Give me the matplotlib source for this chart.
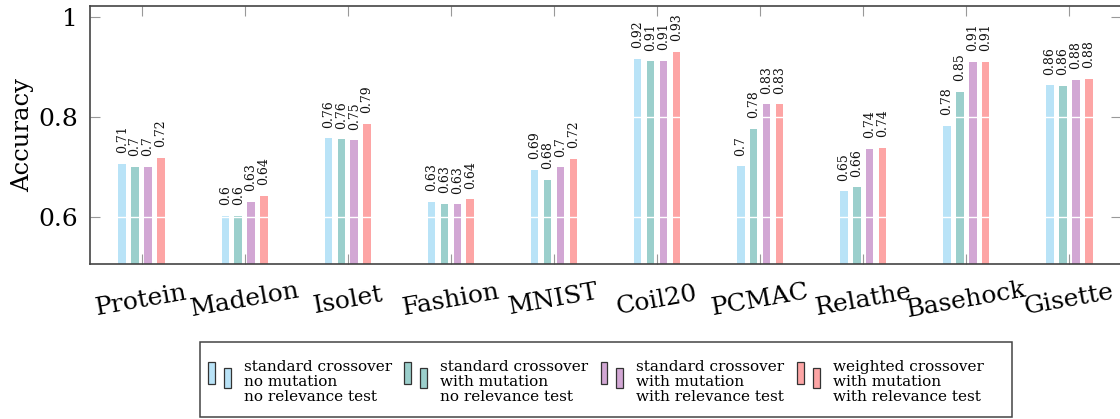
import matplotlib
matplotlib.use("Agg")
import matplotlib.pyplot as plt
from matplotlib.patches import Rectangle, Patch
from matplotlib.legend_handler import HandlerBase
import numpy as np

categories = ["Protein", "Madelon", "Isolet", "Fashion", "MNIST",
              "Coil20", "PCMAC", "Relathe", "Basehock", "Gisette"]

std_nomut_norel = [0.707, 0.603, 0.758, 0.631, 0.695, 0.917, 0.702, 0.652, 0.783, 0.864]
std_mut_norel = [0.701, 0.603, 0.756, 0.627, 0.675, 0.912, 0.777, 0.660, 0.851, 0.863]
std_mut_rel = [0.701, 0.631, 0.754, 0.626, 0.700, 0.913, 0.826, 0.737, 0.911, 0.875]
weighted_mut_rel = [0.719, 0.643, 0.787, 0.636, 0.717, 0.931, 0.826, 0.739, 0.911, 0.877]

series = [std_nomut_norel, std_mut_norel, std_mut_rel, weighted_mut_rel]
series_labels = ["standard crossover\nno mutation\nno relevance test",
                 "standard crossover\nwith mutation\nno relevance test",
                 "standard crossover\nwith mutation\nwith relevance test",
                 "weighted crossover\nwith mutation\nwith relevance test"]
colors = ["#b9e3f7", "#9bcfcc", "#d2a7d4", "#fda5a5"]

yticks = [0.6, 0.8, 1.0]
ytick_labels = ["0.6", "0.8", "1"]

FONT = "DejaVu Serif"
plt.rcParams["font.family"] = FONT

W, H = 1120, 419
fig = plt.figure(figsize=(W / 100, H / 100), dpi=100)
ax = fig.add_axes([90 / W, 155 / H, 1031 / W, 258 / H])

x = np.arange(len(categories))
bar_w = 0.073
step = 0.125
offsets = [-1.5 * step, -0.5 * step, 0.5 * step, 1.5 * step]

for vals, off, col in zip(series, offsets, colors):
    ax.bar(x + off, vals, width=bar_w, color=col, edgecolor="none", zorder=1)
    for xi, v in zip(x + off, vals):
        lab = f"{v:.2f}".rstrip("0")
        ax.annotate(lab, (xi, v), xytext=(0, 7.5), textcoords="offset points",
                    rotation=90, ha="center", va="bottom", fontsize=9,
                    color="#111111", family=FONT)

for yv in yticks:
    ax.axhline(yv, color="white", lw=1.0, zorder=1.5)

ax.set_xlim(-0.5, 9.5)
ax.set_ylim(0.5066, 1.0226)

ax.set_yticks(yticks)
ax.set_yticklabels(ytick_labels, fontsize=18)
ax.set_xticks(x)
ax.set_xticklabels(categories, fontsize=18, rotation=10, ha="center",
                   va="center", rotation_mode="anchor")

ax.tick_params(axis="both", direction="in", length=7.2, width=0.8,
               color="#999999", top=True, right=True)
ax.tick_params(axis="y", pad=8.6)
ax.tick_params(axis="x", pad=26)

for s in ax.spines.values():
    s.set_color("#444444")
    s.set_linewidth(1.2)

ax.set_ylabel("Accuracy", fontsize=17.5)
ax.yaxis.set_label_coords((22.5 - 90) / 1031, 0.5)
ax.yaxis.label.set_va("center")


class TwinBarHandler(HandlerBase):
    def create_artists(self, legend, orig_handle, xdescent, ydescent,
                       width, height, fontsize, trans):
        fc = orig_handle.get_facecolor()
        bw = width * 7 / 23
        lift = 0.52 * fontsize
        arts = []
        # first bar: taller, higher; second bar: shorter, lower
        specs = [(0.0, 0.154, 0.846), (16 / 23, 0.0, 0.77)]
        for fx, fy, fh in specs:
            r = Rectangle((fx * width - xdescent, fy * height - ydescent + lift),
                          bw, fh * height, facecolor=fc, edgecolor="#333333",
                          lw=0.9, transform=trans)
            arts.append(r)
        return arts


handles = [Patch(facecolor=c) for c in colors]
leg = fig.legend(handles, series_labels, ncol=4, frameon=False,
                 loc="upper left", bbox_to_anchor=(208 / W, 1 - 360 / H),
                 borderpad=0, borderaxespad=0, fontsize=11,
                 handlelength=1.5, handleheight=2.24, handletextpad=0.85,
                 columnspacing=0.8, labelspacing=0,
                 handler_map={Patch: TwinBarHandler()})
for t in leg.get_texts():
    t.set_linespacing(1.08)

fig.patches.append(Rectangle((200 / W, 2 / H), 812 / W, 75 / H,
                             transform=fig.transFigure, fill=False,
                             edgecolor="#444444", lw=1.1))

fig.savefig("out.png", dpi=100)
